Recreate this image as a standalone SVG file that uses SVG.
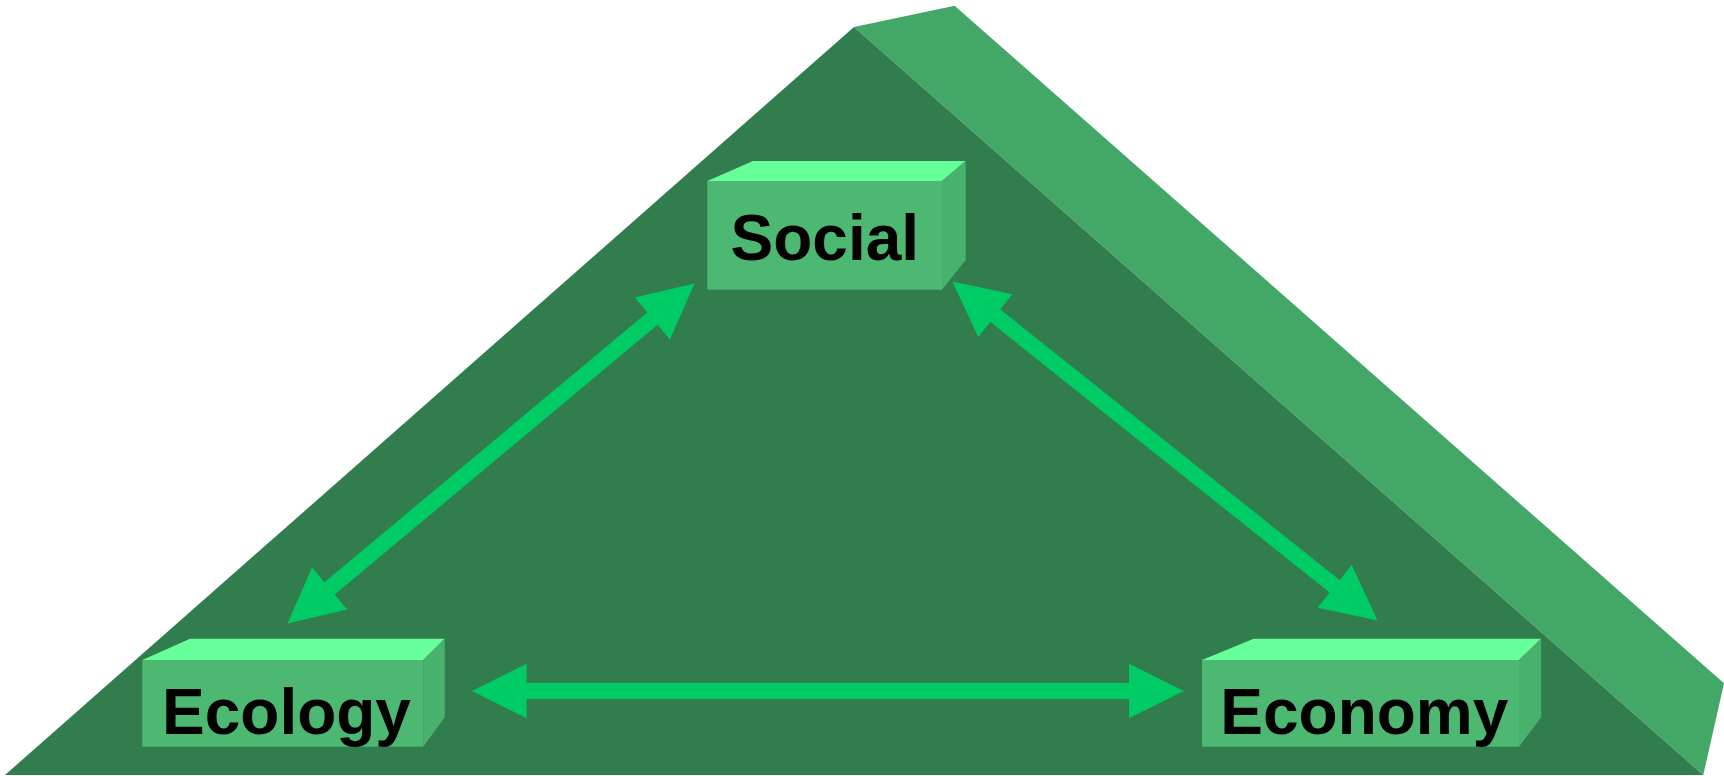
<svg xmlns="http://www.w3.org/2000/svg" width="1724" height="776" viewBox="0 0 1724 776">
  <style>
    .base { fill: #327d4d; }
    .slab { fill: #43a867; }
    .front { fill: #4cb872; }
    .top { fill: #66ff99; }
    .side { fill: #48b26d; }
    .label { font-family: "Liberation Sans", Arial, sans-serif; font-weight: bold; font-size: 64px; fill: #000000; }
    .link { stroke: #00cc66; stroke-width: 16; fill: none; }
  </style>
  <defs>
    <marker id="head" markerUnits="userSpaceOnUse" orient="auto-start-reverse"
            markerWidth="60" markerHeight="60" refX="0" refY="0" viewBox="-2 -25 52 50" overflow="visible">
      <path d="M-1,-23.7 L46.5,0 L-1,23.7 Z" fill="#00cc66"/>
    </marker>
  </defs>

  <!-- backdrop: pyramid face and its slanted back slab -->
  <g id="pyramid">
    <polygon class="slab" points="854,27 954.6,5.7 1724,683.3 1703.3,775"/>
    <polygon class="base" points="5,775 854,27 1703.3,775"/>
  </g>

  <!-- Social block -->
  <g id="social">
    <polygon class="top" points="707.3,181 753,161 965.7,161 942,181"/>
    <polygon class="side" points="942,181 965.7,161 965.7,260 942,289.7"/>
    <rect class="front" x="707.3" y="181" width="234.7" height="108.7"/>
    <text class="label" x="730.5" y="260">Social</text>
  </g>

  <!-- Ecology block -->
  <g id="ecology">
    <polygon class="top" points="142.3,660 190,638.7 444.7,638.7 423.3,660"/>
    <polygon class="side" points="423.3,660 444.7,638.7 444.7,717.3 423.3,746.7"/>
    <rect class="front" x="142.3" y="660" width="281" height="86.7"/>
    <text class="label" x="162" y="734">Ecology</text>
  </g>

  <!-- Economy block -->
  <g id="economy">
    <polygon class="top" points="1202,660 1253.6,638.7 1541.2,638.7 1519,660"/>
    <polygon class="side" points="1519,660 1541.2,638.7 1541.2,717.3 1519,746.7"/>
    <rect class="front" x="1202" y="660" width="317" height="86.7"/>
    <text class="label" x="1220.3" y="734">Economy</text>
  </g>

  <!-- two-way links between the blocks -->
  <g id="connectors">
    <line class="link" x1="328.7" y1="589.2" x2="653.3" y2="317.8" marker-start="url(#head)" marker-end="url(#head)"/>
    <line class="link" x1="994.4" y1="315.0" x2="1335.6" y2="587.0" marker-start="url(#head)" marker-end="url(#head)"/>
    <line class="link" x1="525.5" y1="691" x2="1130.2" y2="691" marker-start="url(#head)" marker-end="url(#head)"/>
  </g>
</svg>
